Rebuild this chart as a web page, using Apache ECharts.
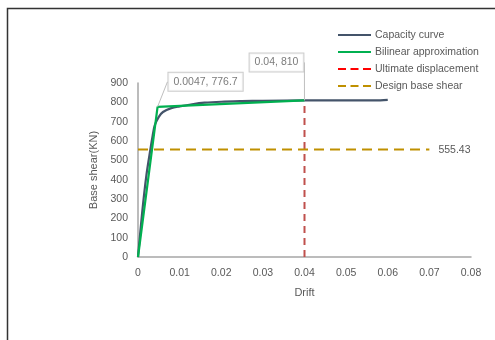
<!DOCTYPE html>
<html>
<head>
<meta charset="utf-8">
<script src="https://cdn.jsdelivr.net/npm/echarts@6/dist/echarts.min.js"></script>
<style>
  html, body { margin: 0; padding: 0; background: #fff; }
  #chart { width: 495px; height: 340px; }
</style>
</head>
<body>
<div id="chart"></div>
<script>
// Pushover capacity curve (drift vs base shear)
const capacityDrift = [0, 0.001, 0.002, 0.003, 0.0035, 0.004, 0.005, 0.006, 0.008, 0.010, 0.013, 0.016, 0.020, 0.025, 0.030, 0.040, 0.050, 0.057, 0.060];
const capacityShear = [0, 230, 420, 560, 625, 680, 725, 750, 770, 779, 790, 798, 803, 806, 808, 810, 810, 810, 813];

// Idealised bilinear curve: origin, yield point, ultimate point
const bilinearDrift = [0, 0.0047, 0.04];
const bilinearShear = [0, 776.7, 810];

const ultimateDrift = 0.04;
const ultimateShear = 810;
const designShear = 555.43;
const designEndDrift = 0.07;

const xTicks = [0, 0.01, 0.02, 0.03, 0.04, 0.05, 0.06, 0.07, 0.08];
const yTicks = [0, 100, 200, 300, 400, 500, 600, 700, 800, 900];

const FONT = 'Liberation Sans';
const TXT = '#595959';

// offsets of the two callout boxes from their points
const calloutOffsets = [{ dx: 48, dy: -25 }, { dx: -28, dy: -38 }];

const chart = echarts.init(document.getElementById('chart'), null, { renderer: 'canvas' });

const pair = (xs, ys) => xs.map((x, i) => [x, ys[i]]);

chart.setOption({
  animation: false,
  backgroundColor: '#fff',
  textStyle: { fontFamily: FONT },
  graphic: [{
    type: 'rect',
    shape: { x: 7.5, y: 8.5, width: 500, height: 340 },
    style: { fill: 'none', stroke: '#333', lineWidth: 1.5 },
    silent: true
  }],
  grid: { left: 138, right: 24, top: 83, bottom: 83 },
  legend: {
    orient: 'vertical',
    left: 332, top: 24,
    itemWidth: 33, itemHeight: 12, itemGap: 5,
    itemStyle: { opacity: 0 },
    textStyle: { fontFamily: FONT, fontSize: 10.5, lineHeight: 12, color: TXT, padding: [0, 0, 0, -1] },
    data: [
      { name: 'Capacity curve' },
      { name: 'Bilinear approximation' },
      { name: 'Ultimate displacement', lineStyle: { color: '#FF0000', type: [8, 4.5] } },
      { name: 'Design base shear', lineStyle: { type: [8, 4.5] } }
    ]
  },
  xAxis: {
    type: 'value',
    min: 0, max: 0.08, interval: 0.01,
    name: 'Drift', nameLocation: 'middle', nameGap: 30,
    nameTextStyle: { fontFamily: FONT, fontSize: 11, color: TXT },
    axisLine: { show: true, lineStyle: { color: '#A6A6A6', width: 1.5 } },
    axisTick: { show: false },
    splitLine: { show: false },
    axisLabel: {
      fontFamily: FONT, fontSize: 10.5, color: TXT, margin: 11,
      formatter: v => { const t = xTicks.find(k => Math.abs(k - v) < 1e-9); return t === undefined ? '' : String(t); }
    }
  },
  yAxis: {
    type: 'value',
    min: 0, max: 900, interval: 100,
    name: 'Base shear(KN)', nameLocation: 'middle', nameGap: 33,
    nameTextStyle: { fontFamily: FONT, fontSize: 11, color: TXT },
    axisLine: { show: true, lineStyle: { color: '#A6A6A6', width: 1.5 } },
    axisTick: { show: false },
    splitLine: { show: false },
    axisLabel: {
      fontFamily: FONT, fontSize: 10.5, color: TXT, margin: 10,
      formatter: v => { const t = yTicks.find(k => k === v); return t === undefined ? '' : String(t); }
    }
  },
  series: [
    {
      name: 'Capacity curve',
      type: 'line',
      data: pair(capacityDrift, capacityShear),
      smooth: 0.3,
      symbol: 'none',
      lineStyle: { color: '#44546A', width: 2.2 },
      itemStyle: { color: '#44546A' },
      z: 3
    },
    {
      name: 'Bilinear approximation',
      type: 'line',
      data: pair(bilinearDrift, bilinearShear),
      symbol: 'none',
      lineStyle: { color: '#00B050', width: 2.2 },
      itemStyle: { color: '#00B050' },
      z: 4
    },
    {
      name: 'Ultimate displacement',
      type: 'line',
      data: [[ultimateDrift, 0], [ultimateDrift, ultimateShear]],
      symbol: 'none',
      lineStyle: { color: '#C0504D', width: 2, type: [7, 5] },
      itemStyle: { color: '#C0504D' },
      z: 2
    },
    {
      name: 'Design base shear',
      type: 'line',
      data: [[0, designShear], [designEndDrift, designShear]],
      symbol: 'none',
      lineStyle: { color: '#BF9000', width: 2, type: [10, 6] },
      itemStyle: { color: '#BF9000' },
      endLabel: {
        show: true, formatter: String(designShear),
        fontFamily: FONT, fontSize: 10.5, color: TXT, distance: 9
      },
      z: 2
    },
    {
      // callouts on the yield and ultimate points
      type: 'scatter',
      symbolSize: 0.1,
      itemStyle: { color: 'rgba(0,0,0,0)' },
      data: [
        [bilinearDrift[1], bilinearShear[1]],
        [ultimateDrift, ultimateShear]
      ],
      label: {
        show: true, position: 'inside',
        formatter: p => p.value[0] + ', ' + p.value[1],
        fontFamily: FONT, fontSize: 10.5, color: TXT,
        backgroundColor: '#fff', borderColor: '#BFBFBF', borderWidth: 1,
        padding: [4, 5, 3, 5]
      },
      labelLayout: p => calloutOffsets[p.dataIndex],
      labelLine: { show: true, lineStyle: { color: '#BFBFBF', width: 1 } },
      z: 6
    }
  ]
});
</script>
</body>
</html>
